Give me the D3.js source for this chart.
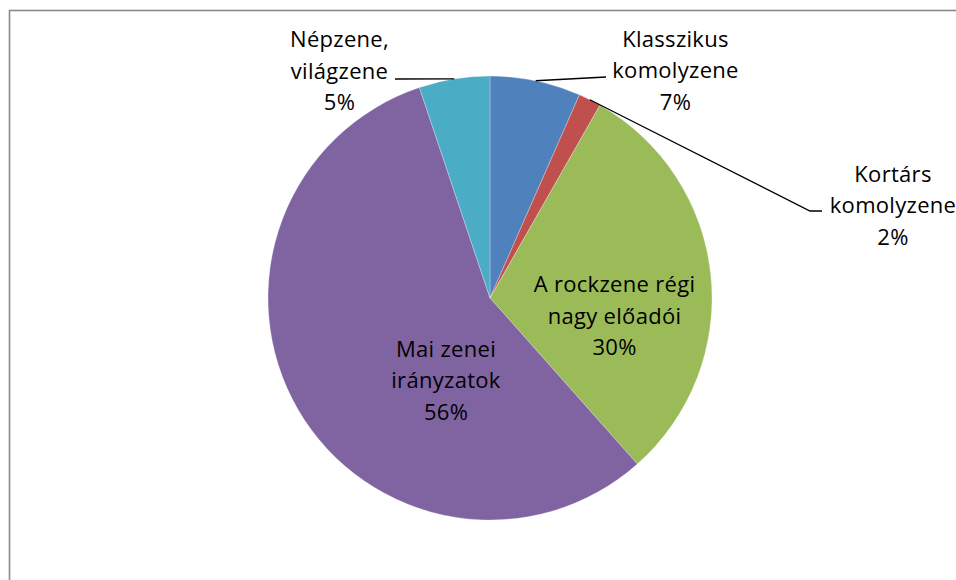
<!DOCTYPE html>
<html>
<head>
<meta charset="utf-8">
<script src="https://cdnjs.cloudflare.com/ajax/libs/d3/7.8.5/d3.min.js"></script>
<style>
  body { margin: 0; background: #fff; }
  svg { display: block; }
  text { font-family: "Open Sans", Lato, sans-serif; font-size: 22px; letter-spacing: 0.3px; fill: #000; }
</style>
</head>
<body>
<div id="chart"></div>
<script>
// data (clockwise from 12 o'clock)
var categories = ["Klasszikus komolyzene", "Kortárs komolyzene", "A rockzene régi nagy előadói", "Mai zenei irányzatok", "Népzene, világzene"];
var values = [6.6, 1.65, 30.2, 56.4, 5.15];
var labelLines = [["Klasszikus", "komolyzene"], ["Kortárs", "komolyzene"], ["A rockzene régi", "nagy előadói"], ["Mai zenei", "irányzatok"], ["Népzene,", "világzene"]];
var colors = ["#4F81BD", "#C0504D", "#9BBB59", "#8064A2", "#4BACC6"];

var width = 956, height = 580;
var cx = 490, cy = 298, radius = 222;
var lineGap = 31.7;

// label boxes relative to pie centre: [centre x, first baseline], plus leader bends
var labelPos = [
  { dx: 185.5, dy: -251.5, leader: [[116, -221]] },
  { dx: 403, dy: -116.5, leader: [[320, -87], [332, -87]] },
  { dx: 124.5, dy: -6, leader: null },
  { dx: -44, dy: 58.5, leader: null },
  { dx: -150.5, dy: -251, leader: [[-95, -219]] }
];

var svg = d3.select("#chart").append("svg")
  .attr("width", width)
  .attr("height", height);

// chart frame, runs off the right and bottom edge
svg.append("rect")
  .attr("x", 9.5).attr("y", 10.5)
  .attr("width", 1000).attr("height", 700)
  .attr("fill", "none")
  .attr("stroke", "#8a8a8a")
  .attr("stroke-width", 1.6);

var pie = d3.pie().sort(null).value(function(d) { return d; });
var arcs = pie(values);

var arc = d3.arc().innerRadius(0).outerRadius(radius);
var edgeArc = d3.arc().innerRadius(radius).outerRadius(radius);

var g = svg.append("g").attr("transform", "translate(" + cx + "," + cy + ")");

g.selectAll("path.slice")
  .data(arcs)
  .enter()
  .append("path")
  .attr("class", "slice")
  .attr("d", arc)
  .attr("fill", function(d, i) { return colors[i]; })
  .attr("stroke", "rgba(255,255,255,0.45)")
  .attr("stroke-width", 0.6);

// leader lines from the middle of the arc to the label
var line = d3.line();
g.selectAll("path.leader")
  .data(arcs.filter(function(d, i) { return labelPos[i].leader; }))
  .enter()
  .append("path")
  .attr("class", "leader")
  .attr("d", function(d) {
    var pts = [edgeArc.centroid(d)].concat(labelPos[d.index].leader);
    return line(pts);
  })
  .attr("fill", "none")
  .attr("stroke", "#000")
  .attr("stroke-width", 1.3);

var labels = g.selectAll("text.label")
  .data(arcs)
  .enter()
  .append("text")
  .attr("class", "label")
  .attr("text-anchor", "middle")
  .attr("transform", function(d) {
    var p = labelPos[d.index];
    return "translate(" + p.dx + "," + p.dy + ")";
  });

labels.each(function(d) {
  var lines = labelLines[d.index].concat([Math.round(d.data) + "%"]);
  d3.select(this).selectAll("tspan")
    .data(lines)
    .enter()
    .append("tspan")
    .attr("x", 0)
    .attr("y", function(t, j) { return j * lineGap; })
    .text(function(t) { return t; });
});
</script>
</body>
</html>
